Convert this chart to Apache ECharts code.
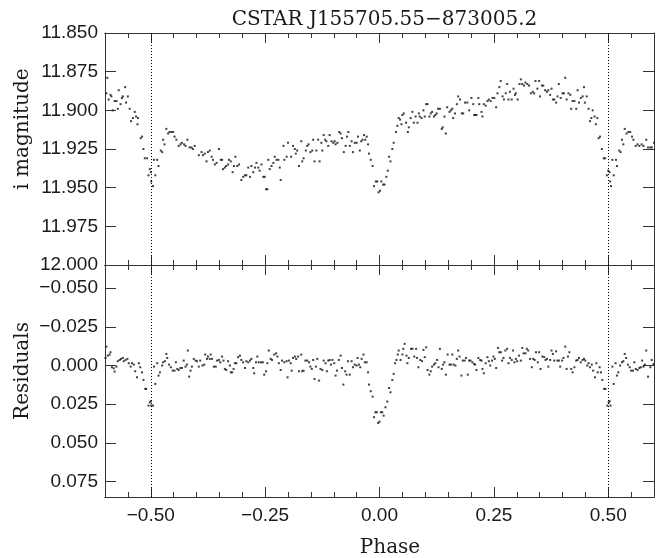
<!DOCTYPE html>
<html><head><meta charset="utf-8">
<script src="https://cdn.jsdelivr.net/npm/echarts@6/dist/echarts.min.js"></script>
<style>html,body{margin:0;padding:0;background:#fff}#c{width:668px;height:558px}</style>
</head><body><div id="c"></div>
<script>
const titleText = 'CSTAR J155705.55\u2212873005.2';
const topAxisName = 'i magnitude';
const bottomAxisName = 'Residuals';
const xAxisName = 'Phase';
const phaseTicks = [-0.5, -0.25, 0, 0.25, 0.5];
const magTicks = [11.85, 11.875, 11.9, 11.925, 11.95, 11.975, 12.0];
const residualTicks = [-0.05, -0.025, 0, 0.025, 0.05, 0.075];
const eclipsePhases = [-0.5, 0.5];

// [phase, i magnitude]
const magnitudePoints = [
[-0.595,11.879],[-0.597,11.889],[-0.588,11.890],[-0.586,11.891],[-0.592,11.893],[-0.579,11.894],[-0.575,11.894],[-0.583,11.900],[-0.572,11.899],[-0.570,11.887],
[-0.566,11.896],[-0.563,11.892],[-0.561,11.891],[-0.556,11.885],[-0.554,11.895],[-0.550,11.891],[-0.546,11.899],[-0.543,11.907],[-0.539,11.905],[-0.535,11.901],
[-0.532,11.904],[-0.528,11.905],[-0.529,11.909],[-0.522,11.918],[-0.519,11.917],[-0.516,11.925],[-0.513,11.931],[-0.508,11.931],[-0.505,11.942],[-0.502,11.938],
[-0.500,11.940],[-0.499,11.946],[-0.495,11.949],[-0.493,11.932],[-0.490,11.942],[-0.486,11.932],[-0.483,11.936],[-0.478,11.926],[-0.475,11.927],[-0.473,11.919],
[-0.470,11.922],[-0.466,11.912],[-0.462,11.915],[-0.459,11.914],[-0.455,11.914],[-0.451,11.914],[-0.448,11.917],[-0.444,11.919],[-0.439,11.923],[-0.435,11.922],
[-0.432,11.921],[-0.427,11.922],[-0.424,11.923],[-0.420,11.919],[-0.415,11.924],[-0.411,11.924],[-0.408,11.925],[-0.404,11.923],[-0.395,11.929],[-0.389,11.927],
[-0.386,11.929],[-0.382,11.928],[-0.378,11.933],[-0.375,11.927],[-0.371,11.926],[-0.367,11.930],[-0.364,11.932],[-0.360,11.935],[-0.356,11.934],[-0.351,11.925],
[-0.347,11.932],[-0.344,11.932],[-0.342,11.938],[-0.338,11.937],[-0.335,11.936],[-0.331,11.935],[-0.329,11.932],[-0.325,11.933],[-0.321,11.940],[-0.318,11.936],
[-0.315,11.930],[-0.311,11.936],[-0.307,11.935],[-0.302,11.945],[-0.298,11.943],[-0.294,11.942],[-0.291,11.942],[-0.287,11.937],[-0.283,11.943],[-0.280,11.936],
[-0.276,11.940],[-0.272,11.937],[-0.269,11.934],[-0.265,11.937],[-0.262,11.939],[-0.258,11.935],[-0.254,11.943],[-0.251,11.943],[-0.248,11.951],[-0.245,11.951],
[-0.243,11.932],[-0.240,11.938],[-0.236,11.936],[-0.232,11.934],[-0.229,11.930],[-0.225,11.932],[-0.221,11.932],[-0.218,11.937],[-0.216,11.945],[-0.210,11.923],
[-0.208,11.932],[-0.203,11.930],[-0.200,11.921],
[-0.193,11.930],[-0.189,11.923],[-0.185,11.925],[-0.183,11.928],[-0.180,11.926],[-0.176,11.936],[-0.171,11.920],[-0.169,11.933],[-0.166,11.931],[-0.161,11.926],
[-0.158,11.923],[-0.155,11.922],[-0.151,11.927],[-0.147,11.926],[-0.145,11.919],[-0.142,11.933],[-0.138,11.926],[-0.134,11.919],[-0.131,11.933],[-0.127,11.921],
[-0.125,11.926],[-0.122,11.916],[-0.119,11.919],[-0.116,11.920],[-0.112,11.923],[-0.109,11.916],[-0.105,11.920],[-0.101,11.921],[-0.098,11.920],[-0.096,11.922],
[-0.092,11.921],[-0.088,11.914],[-0.085,11.915],[-0.082,11.918],[-0.078,11.927],[-0.074,11.923],[-0.071,11.917],[-0.068,11.914],[-0.065,11.923],[-0.061,11.920],
[-0.058,11.927],[-0.054,11.921],[-0.050,11.921],[-0.047,11.917],[-0.043,11.926],[-0.040,11.920],[-0.037,11.919],[-0.034,11.916],[-0.031,11.919],[-0.028,11.917],
[-0.025,11.922],[-0.023,11.928],[-0.019,11.932],[-0.015,11.936],[-0.012,11.949],[-0.008,11.946],[-0.005,11.946],[-0.002,11.953],[0.001,11.952],[0.004,11.946],
[0.008,11.948],[0.011,11.948],[0.015,11.943],[0.018,11.939],[0.021,11.930],[0.024,11.933],[0.028,11.925],[0.031,11.921],[0.036,11.914],[0.039,11.910],
[0.042,11.905],[0.045,11.906],[0.048,11.909],[0.050,11.903],[0.053,11.902],[0.058,11.908],[0.062,11.914],[0.064,11.911],[0.068,11.905],[0.072,11.901],
[0.075,11.908],[0.079,11.904],[0.083,11.908],[0.086,11.902],[0.088,11.904],[0.092,11.905],[0.096,11.900],[0.099,11.904],[0.102,11.896],[0.105,11.896],
[0.109,11.904],[0.112,11.902],[0.115,11.901],[0.119,11.904],[0.122,11.903],[0.125,11.902],[0.128,11.899],[0.132,11.899],[0.136,11.912],[0.138,11.911],
[0.142,11.904],[0.145,11.915],[0.148,11.898],[0.153,11.901],[0.156,11.900],[0.159,11.899],[0.161,11.905],[0.165,11.902],[0.169,11.896],[0.172,11.891],
[0.176,11.893],[0.180,11.902],[0.183,11.902],[0.187,11.895],[0.192,11.895],[0.196,11.900],[0.201,11.892],[0.205,11.896],[0.207,11.903],
[0.209,11.903],[0.212,11.903],[0.216,11.892],[0.218,11.896],[0.223,11.901],[0.225,11.904],[0.228,11.896],[0.232,11.897],[0.236,11.894],[0.239,11.893],
[0.243,11.894],[0.247,11.892],[0.251,11.892],[0.255,11.898],[0.258,11.889],[0.262,11.885],[0.265,11.881],[0.269,11.891],[0.272,11.893],[0.276,11.889],
[0.279,11.883],[0.282,11.893],[0.285,11.888],[0.289,11.893],[0.293,11.886],[0.296,11.890],[0.298,11.889],[0.302,11.893],[0.306,11.883],[0.309,11.880],
[0.312,11.883],[0.316,11.884],[0.319,11.882],[0.323,11.883],[0.327,11.884],[0.331,11.889],[0.335,11.888],[0.338,11.889],[0.341,11.881],[0.345,11.886],
[0.349,11.881],[0.351,11.891],[0.355,11.884],[0.358,11.884],[0.362,11.887],[0.366,11.888],[0.369,11.887],[0.373,11.890],[0.376,11.886],[0.379,11.893],
[0.382,11.893],[0.386,11.895],[0.389,11.891],[0.392,11.883],[0.396,11.892],[0.400,11.889],[0.403,11.889],[0.406,11.879],[0.409,11.893],[0.413,11.889],
[0.417,11.890],[0.419,11.899],[0.422,11.894],[0.426,11.894],[0.430,11.899],[0.433,11.887],[0.436,11.895],[0.440,11.892],[0.444,11.891],[0.447,11.885],
[0.449,11.895],[0.453,11.891],[0.457,11.899],[0.460,11.907],[0.463,11.905],[0.466,11.900],[0.470,11.904],[0.473,11.909],[0.476,11.905],[0.479,11.918],
[0.482,11.917],[0.486,11.925],[0.490,11.931],[0.493,11.931],[0.497,11.942],[0.500,11.939],[0.503,11.940],[0.504,11.946],[0.506,11.949],[0.509,11.932],
[0.512,11.942],[0.517,11.932],[0.519,11.936],[0.524,11.926],[0.527,11.927],[0.530,11.919],[0.533,11.922],[0.536,11.912],[0.540,11.915],[0.544,11.914],
[0.548,11.914],[0.552,11.917],[0.555,11.919],[0.560,11.923],[0.564,11.922],[0.568,11.923],[0.573,11.922],[0.577,11.923],[0.583,11.919],[0.587,11.924],
[0.592,11.924],[0.595,11.924],[0.600,11.921]
];

// [phase, residual]
const residualPoints = [
[-0.597,-0.0122],[-0.599,-0.0049],[-0.594,-0.0064],[-0.590,-0.0071],[-0.588,-0.0086],[-0.585,0.0011],[-0.581,0.0018],[-0.579,0.0039],[-0.575,0.0007],[-0.572,-0.0028],
[-0.568,-0.0036],[-0.565,-0.0043],[-0.561,-0.0049],[-0.559,-0.0028],[-0.555,-0.0036],[-0.551,-0.0043],[-0.548,-0.0015],[-0.544,0.0007],[-0.541,-0.0015],[-0.537,-0.0006],
[-0.534,0.0037],[-0.530,0.0076],[-0.526,-0.0015],[-0.523,0.0011],[-0.519,0.0044],[-0.516,0.0093],[-0.512,0.0151],[-0.510,0.0151],[-0.505,0.0259],[-0.502,0.0238],
[-0.500,0.0231],[-0.499,0.0259],[-0.495,0.0259],[-0.493,0.0007],[-0.490,0.0119],[-0.486,-0.0015],[-0.483,0.0065],[-0.480,0.0044],[-0.475,0.0000],[-0.473,-0.0021],
[-0.469,-0.0028],[-0.466,-0.0075],[-0.464,-0.0049],[-0.460,-0.0006],[-0.456,0.0011],[-0.452,0.0033],[-0.448,0.0033],[-0.445,-0.0021],[-0.442,0.0022],[-0.439,0.0029],
[-0.435,0.0016],[-0.432,0.0016],[-0.428,-0.0032],[-0.424,0.0007],[-0.421,-0.0006],[-0.419,-0.0097],[-0.416,0.0072],[-0.413,0.0033],[-0.410,0.0007],[-0.406,-0.0043],
[-0.402,-0.0032],[-0.399,-0.0028],[-0.395,0.0007],[-0.392,-0.0032],[-0.387,0.0000],[-0.383,-0.0006],[-0.381,-0.0071],[-0.377,-0.0043],[-0.375,-0.0058],[-0.371,-0.0043],
[-0.369,-0.0071],[-0.366,-0.0043],[-0.362,0.0007],[-0.358,0.0007],[-0.355,-0.0032],[-0.351,-0.0036],[-0.348,-0.0021],[-0.344,-0.0058],[-0.341,-0.0032],[-0.338,0.0022],
[-0.335,0.0029],[-0.331,-0.0028],[-0.327,0.0000],[-0.325,0.0044],[-0.322,0.0044],[-0.319,0.0022],[-0.316,-0.0015],[-0.313,-0.0015],[-0.309,-0.0054],[-0.305,-0.0064],
[-0.302,-0.0036],[-0.298,-0.0021],[-0.294,0.0016],[-0.291,-0.0028],[-0.287,-0.0021],[-0.283,-0.0032],[-0.280,-0.0043],[-0.276,0.0016],[-0.274,0.0050],[-0.270,-0.0021],
[-0.267,-0.0058],[-0.264,-0.0021],[-0.259,-0.0021],[-0.255,-0.0021],[-0.252,0.0059],[-0.248,0.0037],[-0.245,-0.0015],[-0.242,-0.0097],[-0.238,-0.0043],[-0.235,-0.0036],
[-0.230,-0.0071],[-0.226,-0.0079],[-0.223,-0.0058],[-0.220,-0.0015],[-0.216,0.0029],[-0.213,-0.0032],[-0.208,-0.0021],[-0.203,-0.0028],[-0.201,0.0076],[-0.198,-0.0032],
[-0.194,-0.0015],[-0.192,0.0033],[-0.189,-0.0049],[-0.185,-0.0058],[-0.182,-0.0043],[-0.178,-0.0058],[-0.176,0.0037],[-0.171,-0.0071],[-0.169,0.0037],[-0.166,0.0033],
[-0.162,-0.0032],[-0.158,-0.0032],[-0.154,-0.0021],[-0.151,0.0007],[-0.148,0.0022],[-0.145,-0.0036],[-0.142,0.0087],[-0.139,0.0007],[-0.136,-0.0043],[-0.132,0.0097],
[-0.129,0.0022],[-0.125,0.0029],[-0.122,-0.0032],[-0.118,-0.0015],[-0.115,0.0037],[-0.112,-0.0032],[-0.109,-0.0036],[-0.106,-0.0006],[-0.103,-0.0036],[-0.099,-0.0015],
[-0.096,0.0065],[-0.093,0.0033],[-0.089,-0.0036],[-0.085,-0.0064],[-0.082,0.0016],[-0.079,0.0123],[-0.075,0.0037],[-0.072,0.0059],[-0.069,-0.0028],[-0.065,0.0059],
[-0.061,-0.0028],[-0.058,0.0011],[-0.054,-0.0006],[-0.050,0.0000],[-0.048,-0.0049],[-0.045,-0.0006],[-0.042,0.0011],[-0.039,-0.0043],[-0.035,-0.0071],[-0.032,-0.0021],
[-0.028,-0.0021],[-0.025,0.0044],[-0.023,0.0123],[-0.019,0.0166],[-0.015,0.0201],[-0.012,0.0334],[-0.009,0.0302],[-0.006,0.0302],[-0.003,0.0371],[0.000,0.0363],
[0.003,0.0302],[0.006,0.0302],[0.009,0.0324],[0.013,0.0270],[0.017,0.0233],[0.021,0.0145],[0.024,0.0173],[0.028,0.0093],[0.031,0.0054],[0.034,-0.0015],
[0.037,-0.0036],[0.040,-0.0071],[0.042,-0.0097],[0.046,-0.0036],[0.050,-0.0071],[0.052,-0.0108],[0.055,-0.0140],[0.059,-0.0064],[0.061,-0.0015],[0.064,-0.0049],
[0.069,-0.0108],[0.072,-0.0108],[0.076,-0.0058],[0.080,-0.0108],[0.082,-0.0049],[0.085,0.0011],[0.089,-0.0036],[0.093,-0.0028],[0.096,-0.0101],[0.099,-0.0054],
[0.102,-0.0118],[0.105,0.0029],[0.109,0.0059],[0.112,0.0037],[0.115,0.0007],[0.119,-0.0006],[0.122,-0.0015],[0.126,-0.0036],[0.129,0.0011],[0.132,-0.0108],
[0.136,0.0022],[0.139,-0.0006],[0.142,-0.0021],[0.145,0.0059],[0.149,-0.0071],[0.153,-0.0006],[0.156,-0.0006],[0.159,-0.0071],[0.162,-0.0006],[0.166,0.0000],
[0.169,-0.0043],[0.172,-0.0097],[0.175,-0.0058],[0.179,0.0065],[0.182,-0.0032],[0.186,-0.0032],[0.189,-0.0049],[0.193,0.0059],[0.196,-0.0032],[0.199,-0.0032],
[0.203,-0.0021],[0.207,-0.0010],[0.209,-0.0006],[0.212,0.0029],[0.216,-0.0049],[0.220,-0.0036],[0.223,-0.0032],[0.225,0.0022],[0.228,0.0050],[0.232,-0.0015],
[0.236,-0.0054],[0.239,-0.0028],[0.242,0.0000],[0.246,-0.0032],[0.249,-0.0058],[0.252,-0.0043],[0.255,0.0016],[0.259,-0.0114],[0.262,-0.0086],[0.265,-0.0086],
[0.268,-0.0032],[0.271,-0.0049],[0.275,-0.0097],[0.279,-0.0108],[0.282,-0.0015],[0.285,-0.0049],[0.289,-0.0036],[0.292,-0.0097],[0.295,-0.0021],[0.298,-0.0043],
[0.301,-0.0028],[0.305,-0.0064],[0.309,-0.0032],[0.312,-0.0114],[0.315,-0.0079],[0.319,-0.0079],[0.322,-0.0108],[0.325,-0.0097],[0.329,-0.0043],[0.333,0.0011],
[0.336,-0.0043],[0.339,-0.0036],[0.342,-0.0086],[0.346,-0.0021],[0.349,-0.0086],[0.352,0.0022],[0.356,-0.0058],[0.360,-0.0054],[0.363,-0.0036],[0.366,-0.0043],
[0.369,0.0007],[0.373,-0.0036],[0.376,-0.0097],[0.379,-0.0075],[0.382,-0.0032],[0.386,-0.0092],[0.389,-0.0032],[0.392,-0.0032],[0.395,0.0007],[0.399,-0.0032],
[0.402,-0.0049],[0.406,-0.0122],[0.409,0.0022],[0.412,-0.0058],[0.415,-0.0086],[0.419,0.0022],[0.422,0.0044],[0.426,0.0011],[0.430,-0.0032],[0.433,-0.0036],
[0.436,-0.0049],[0.440,-0.0021],[0.444,-0.0036],[0.447,-0.0043],[0.450,-0.0032],[0.454,0.0000],[0.457,-0.0015],[0.460,0.0011],[0.464,-0.0006],[0.467,0.0033],
[0.471,0.0076],[0.474,-0.0015],[0.477,0.0044],[0.481,0.0011],[0.484,0.0044],[0.487,0.0093],[0.491,0.0151],[0.494,0.0151],[0.498,0.0259],[0.501,0.0238],
[0.503,0.0231],[0.505,0.0259],[0.509,0.0007],[0.512,0.0119],[0.516,-0.0015],[0.519,0.0065],[0.522,0.0044],[0.526,0.0000],[0.530,-0.0021],[0.533,-0.0028],
[0.536,-0.0075],[0.539,-0.0049],[0.543,-0.0006],[0.547,0.0011],[0.550,0.0033],[0.554,0.0033],[0.557,-0.0021],[0.560,0.0022],[0.564,0.0029],[0.568,0.0016],
[0.571,0.0011],[0.574,-0.0032],[0.577,0.0007],[0.580,-0.0006],[0.583,-0.0097],[0.587,0.0072],[0.592,0.0011],[0.595,-0.0036],[0.599,-0.0010]
];

const AX = '#333';
const TXT = '#1a1a1a';
function fmt(v, d) { const s = Math.abs(v).toFixed(d); return v < -1e-9 ? '\u2212' + s : s; }
const lineSt = { color: AX, width: 1 };

function xAxes(gi, withLabels) {
  const base = { type: 'value', gridIndex: gi, min: -0.6, max: 0.6, splitLine: { show: false },
    axisLine: { show: true, onZero: false, lineStyle: lineSt } };
  return [
    Object.assign({}, base, { position: 'bottom', interval: 0.05,
      axisTick: { show: true, inside: true, length: 5, lineStyle: lineSt }, axisLabel: { show: false } }),
    Object.assign({}, base, { position: 'bottom',
      axisTick: { show: true, inside: true, length: 10, customValues: phaseTicks, lineStyle: lineSt },
      axisLabel: withLabels ? { show: true, customValues: phaseTicks, formatter: v => fmt(v, 2),
        fontFamily: 'Liberation Sans', fontSize: 19, color: TXT, margin: 9 } : { show: false } }),
    Object.assign({}, base, { position: 'top', interval: 0.05,
      axisTick: { show: true, inside: true, length: 5, lineStyle: lineSt }, axisLabel: { show: false } }),
    Object.assign({}, base, { position: 'top',
      axisTick: { show: true, inside: true, length: 10, customValues: phaseTicks, lineStyle: lineSt }, axisLabel: { show: false } })
  ];
}
function yAxes(gi, min, max, ticks) {
  const base = { type: 'value', gridIndex: gi, min: min, max: max, inverse: true, splitLine: { show: false },
    axisLine: { show: true, onZero: false, lineStyle: lineSt } };
  return [
    Object.assign({}, base, { position: 'left',
      axisTick: { show: true, inside: true, length: 11, customValues: ticks, lineStyle: lineSt },
      axisLabel: { show: true, customValues: ticks, formatter: v => fmt(v, 3),
        fontFamily: 'Liberation Sans', fontSize: 19, color: TXT, margin: 7 } }),
    Object.assign({}, base, { position: 'right',
      axisTick: { show: true, inside: true, length: 11, customValues: ticks, lineStyle: lineSt }, axisLabel: { show: false } })
  ];
}
const markLineCfg = {
  silent: true, symbol: ['none', 'none'], label: { show: false },
  lineStyle: { color: '#000', width: 1, type: [1, 2] },
  data: eclipsePhases.map(p => ({ xAxis: p }))
};
const serifFont = '20px "DejaVu Serif"';
const chart = echarts.init(document.getElementById('c'), null, { renderer: 'canvas' });
chart.setOption({
  animation: false,
  backgroundColor: '#fff',
  title: { text: titleText, left: 379.5, top: 5, textAlign: 'center',
    textStyle: { fontFamily: 'DejaVu Serif', fontSize: 20, fontWeight: 'normal', color: TXT } },
  grid: [
    { left: 105, right: 14, top: 33, height: 232 },
    { left: 105, right: 14, top: 265, height: 232 }
  ],
  xAxis: xAxes(0, false).concat(xAxes(1, true)),
  yAxis: yAxes(0, 11.85, 12.0, magTicks).concat(yAxes(1, -0.065, 0.085, residualTicks)),
  graphic: [
    { type: 'text', x: 23, y: 129, rotation: Math.PI / 2,
      style: { text: topAxisName, font: serifFont, fill: TXT, align: 'center', verticalAlign: 'middle' } },
    { type: 'text', x: 23, y: 371, rotation: Math.PI / 2,
      style: { text: bottomAxisName, font: serifFont, fill: TXT, align: 'center', verticalAlign: 'middle' } },
    { type: 'text', x: 390, y: 548,
      style: { text: xAxisName, font: serifFont, fill: TXT, align: 'center', verticalAlign: 'middle' } }
  ],
  series: [
    { type: 'scatter', xAxisIndex: 0, yAxisIndex: 0, data: magnitudePoints, symbol: 'rect', symbolSize: 2,
      itemStyle: { color: '#111' }, markLine: markLineCfg, silent: true },
    { type: 'scatter', xAxisIndex: 4, yAxisIndex: 2, data: residualPoints, symbol: 'rect', symbolSize: 2,
      itemStyle: { color: '#111' }, markLine: markLineCfg, silent: true }
  ]
});
</script></body></html>
